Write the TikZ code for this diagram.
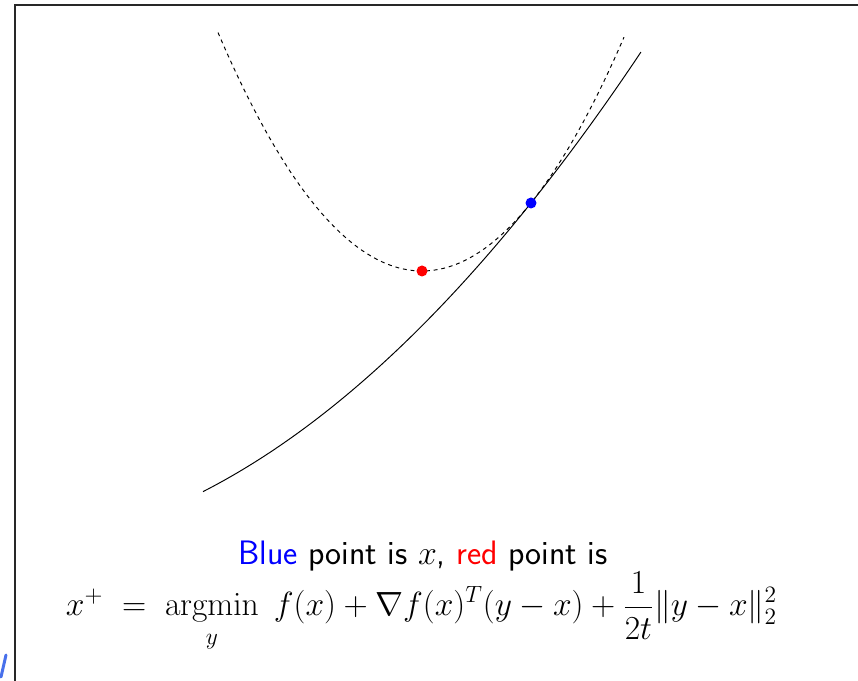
\RequirePackage{fix-cm}
\documentclass[tikz,border=0pt]{standalone}
\usepackage{amsmath}
\usetikzlibrary{positioning}
\definecolor{penblue}{RGB}{72,112,235}
\definecolor{framegray}{RGB}{40,40,40}
\tikzset{
  pt/.style={circle, fill=#1, inner sep=0pt, minimum size=0.22cm},
  fcurve/.style={black, line width=0.55pt},
  qcurve/.style={black, line width=0.55pt, dash pattern=on 2.2pt off 2.2pt},
  caption/.style={font=\fontsize{19.3}{23}\selectfont\sffamily, anchor=base},
  formula/.style={font=\fontsize{19.1}{23}\selectfont, anchor=base},
}

\begin{document}
\begin{tikzpicture}[x=2cm, y=2cm]
  \useasboundingbox (0,0) rectangle (8.58,6.81);
  % Frame
  \draw[framegray, line width=1.1pt] (0.15,0) -- (0.15,6.76) -- (8.58,6.76);
  % Pen mark
  \draw[penblue, line width=1.7pt, line cap=round] (0.01,0.04) -- (0.06,0.26);

  % Function f
  \draw[fcurve] plot[domain=2.03:6.41, samples=80]
    (\x, {4.78+1.249*(\x-5.31)+0.1125*(\x-5.31)^2});
  % Quadratic model at x
  \draw[qcurve] plot[domain=2.18:6.24, samples=80]
    (\x, {4.10+0.573*(\x-4.22)^2});

  % Points
  \node[pt=blue] (xpt) at (5.31,4.78) {};
  \node[pt=red] (xplus) at (4.22,4.10) {};

  % Caption
  \node[caption] (line1) at (4.23,1.16)
    {\textcolor{blue}{Blue} point is $x$, \textcolor{red}{red} point is};
  \node[formula] (line2) at (4.215,0.65)
    {$\displaystyle x^+ \;=\; \mathop{\mathrm{argmin}}_y \; f(x)+\nabla f(x)^T(y-x)+\frac{1}{2t}\|y-x\|_2^2$};
\end{tikzpicture}
\end{document}
